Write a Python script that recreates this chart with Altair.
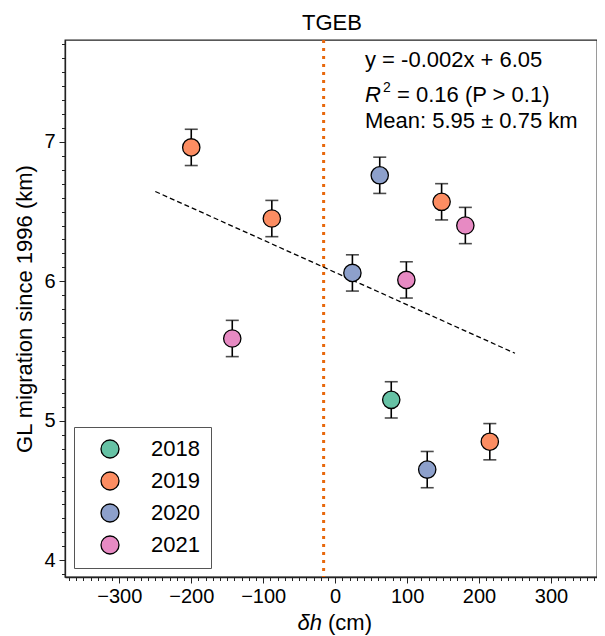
import altair as alt
import pandas as pd

FONT = "Liberation Sans"

# ---- data ----
years = ["2019", "2019", "2021", "2020", "2020", "2021", "2019", "2021", "2018", "2020", "2019"]
dh = [-200, -88, -143, 24, 62, 99, 148, 181, 78, 128, 215]
gl = [6.96, 6.45, 5.59, 6.06, 6.76, 6.01, 6.57, 6.40, 5.15, 4.65, 4.85]
err = [0.13, 0.13, 0.13, 0.13, 0.13, 0.13, 0.13, 0.13, 0.13, 0.13, 0.13]

legend_years = ["2018", "2019", "2020", "2021"]
year_colors = ["#66c2a5", "#fc8d62", "#8da0cb", "#e78ac3"]

trend_x = [-250, 250]
trend_y = [6.644, 5.484]
ref_x = [-16]

x_ticks = list(range(-370, 361, 10))
y_ticks = [round(3.9 + 0.1 * i, 1) for i in range(39)]

title_text = "TGEB"
x_title_italic = "δh"
x_title_rest = "(cm)"
y_title = "GL migration since 1996 (km)"
eq_line = "y = -0.002x + 6.05"
r2_sym = "R"
r2_sup = "2"
r2_rest = "= 0.16 (P > 0.1)"
mean_line = "Mean: 5.95 ± 0.75 km"

W, H = 532, 537

df = pd.DataFrame({"year": years, "dh": dh, "gl": gl, "err": err})
df["lo"] = df["gl"] - df["err"]
df["hi"] = df["gl"] + df["err"]
caps = pd.concat([
    pd.DataFrame({"dh": df["dh"], "yc": df["lo"]}),
    pd.DataFrame({"dh": df["dh"], "yc": df["hi"]}),
])
trend = pd.DataFrame({"tx": trend_x, "ty": trend_y})
ref = pd.DataFrame({"rx": ref_x})

xs = alt.Scale(domain=[-375.5, 364], nice=False, zero=False)
ys = alt.Scale(domain=[3.88, 7.73], nice=False, zero=False)

x_axis = alt.Axis(
    values=x_ticks,
    labelExpr="datum.value % 100 == 0 ? (datum.value < 0 ? '\u2212' + abs(datum.value) : '' + datum.value) : ''",
    tickSize={"condition": {"test": "datum.value % 100 == 0", "value": 6}, "value": 3.5},
    labelFontSize=20, labelFont=FONT, labelColor="black", labelPadding=3,
    labelOverlap=False, labelFlush=False, grid=False, title=None,
)
y_axis = alt.Axis(
    values=y_ticks,
    labelExpr="abs(datum.value - round(datum.value)) < 0.001 ? format(datum.value, 'd') : ''",
    tickSize={"condition": {"test": "abs(datum.value - round(datum.value)) < 0.001", "value": 6}, "value": 3.5},
    labelFontSize=20, labelFont=FONT, labelColor="black", labelPadding=4,
    labelOverlap=False, labelFlush=False, grid=False,
    title=y_title, titleFont=FONT, titleFontSize=22, titleFontWeight="normal",
    titleColor="black", titleX=-33.3, titleY=H / 2, titleAngle=270,
    titleBaseline="alphabetic", titleAlign="center",
)


def X(field):
    return alt.X(field, type="quantitative", scale=xs, axis=x_axis)


def Y(field):
    return alt.Y(field, type="quantitative", scale=ys, axis=y_axis)


ref_line = alt.Chart(ref).mark_rule(color="#e8680c", strokeWidth=3, strokeDash=[3, 5]).encode(x=X("rx"))

trend_line = alt.Chart(trend).mark_line(color="black", strokeWidth=1.3, strokeDash=[5, 3]).encode(
    x=X("tx"), y=Y("ty")
)

bars = alt.Chart(df).mark_rule(color="black", strokeWidth=1.6).encode(
    x=X("dh"), y=Y("lo"), y2="hi"
)
cap_marks = alt.Chart(caps).mark_tick(orient="horizontal", size=13, thickness=1.6, color="black").encode(
    x=X("dh"), y=Y("yc")
)

points = alt.Chart(df).mark_circle(size=300, opacity=1, stroke="black", strokeWidth=1.3).encode(
    x=X("dh"), y=Y("gl"),
    color=alt.Color(
        "year:N",
        scale=alt.Scale(domain=legend_years, range=year_colors),
        legend=alt.Legend(
            title=None, orient="bottom-left", offset=9, padding=11,
            strokeColor="#555", fillColor="white",
            symbolType="circle", symbolSize=324, symbolStrokeColor="black",
            symbolStrokeWidth=1.3, symbolOpacity=1, symbolOffset=14,
            labelOffset=30, labelFontSize=22, labelFont=FONT, labelColor="black",
            rowPadding=8,
        ),
    ),
)


def txt(s, x, y, size=22, style="normal", align="left"):
    return alt.Chart(pd.DataFrame({"t": [s]})).mark_text(
        align=align, baseline="alphabetic", fontSize=size, font=FONT,
        fontStyle=style, color="black",
    ).encode(text="t:N", x=alt.value(x), y=alt.value(y))


annots = [
    txt(title_text, W / 2 + 1, -10, align="center"),
    txt(eq_line, 300, 26.7),
    txt(r2_sym, 300, 61.5, style="italic"),
    txt(r2_sup, 318, 52, size=14),
    txt(r2_rest, 332, 61.5),
    txt(mean_line, 300, 88.3),
    txt(x_title_italic, 257, H + 53, style="italic", align="right"),
    txt(x_title_rest, 263, H + 53),
]

chart = alt.layer(ref_line, trend_line, bars, cap_marks, points, *annots).properties(
    width=W, height=H,
    autosize=alt.AutoSizeParams(type="none"),
    padding={"left": 57, "top": 32, "right": 0, "bottom": 60},
).configure_view(stroke="#222", strokeWidth=1.3).configure_axis(
    domainColor="#222", domainWidth=1.3, tickColor="#222", tickWidth=1
)

chart.save("out.html", embed_options={"renderer": "svg", "actions": False})
